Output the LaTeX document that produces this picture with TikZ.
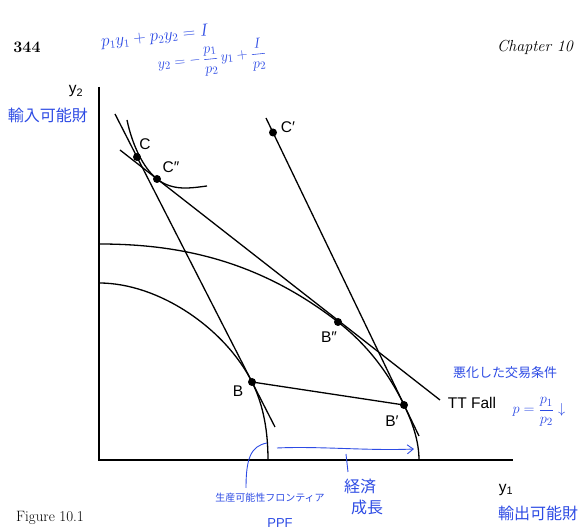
\documentclass[tikz,border=0pt]{standalone}
\usepackage{fontspec}
\usepackage{amsmath}
\usepackage{tikz}
\usetikzlibrary{arrows.meta,positioning}
\newfontfamily\labfont{Liberation Sans}
\newfontfamily\jpfont{Noto Sans CJK JP}
\definecolor{handblue}{RGB}{45,75,228}

\begin{document}
\begin{tikzpicture}[
  x=1pt, y=1pt,
  line/.style={line width=1.3pt},
  dot/.style={circle, fill, inner sep=0pt, minimum size=8pt},
  lab/.style={font=\labfont\fontsize{15.5}{18}\selectfont, inner sep=0pt},
  ink/.style={text=handblue, inner sep=0pt},
  jp/.style={ink, font=\jpfont\fontsize{#1}{#1}\selectfont},
  pen/.style={draw=handblue, line width=0.9pt}
]
  \useasboundingbox (-99,-72) rectangle (485,460);

  % axes
  \coordinate (ytop) at (0,373);
  \coordinate (O) at (0,0);
  \coordinate (xend) at (414,0);
  \draw[line] (ytop) -- (O) -- (xend);

  % production possibility frontiers
  \draw[line] (0,177) .. controls (60,177) and (126,131.5) .. (153,78)
              .. controls (165,54) and (169,27) .. (169,0);
  \draw[line] (0,216) .. controls (80,216) and (159,200) .. (239,138)
              .. controls (267,116.3) and (289,88.3) .. (305,55)
              .. controls (313.5,37.3) and (320,19) .. (320,0);

  % indifference curve
  \draw[line] (28,340) .. controls (33,316) and (44,292) .. (58,281)
              .. controls (74,268.5) and (92,272) .. (108,274);

  % price lines
  \coordinate (cb0) at (16,346);
  \coordinate (cb1) at (176,33);
  \coordinate (cp0) at (167,342);
  \coordinate (cp1) at (320,24);
  \coordinate (tt0) at (21,310);
  \coordinate (tt1) at (341,60);
  \draw[line] (cb0) -- (cb1);
  \draw[line] (cp0) -- (cp1);
  \draw[line] (tt0) -- (tt1);

  \node[dot] (C)   at (38,303) {};
  \node[dot] (Cpp) at (58,281) {};
  \node[dot] (Cp)  at (174,327.5) {};
  \node[dot] (B)   at (153,78) {};
  \node[dot] (Bpp) at (239,138) {};
  \node[dot] (Bp)  at (305,55) {};
  \draw[line] (B.center) -- (Bp.center);

  \node[lab] (Clab)   at (46,316) {C};
  \node[lab] (Cpplab) at (72,293) {C\char"2033};
  \node[lab] (Cplab)  at (189,333) {C\char"2032};
  \node[lab] (Blab)   at (139,69) {B};
  \node[lab] (Bplab)  at (293,39) {B\char"2032};
  \node[lab] (Bpplab) at (230,123) {B\char"2033};
  \node[lab] (ttlab)  at (373,57) {TT Fall};
  \node[lab] (y2lab)  at (-23,369) {y\textsubscript{2}};
  \node[lab] (y1lab)  at (407,-30) {y\textsubscript{1}};

  % page text
  \node[font=\bfseries\fontsize{16}{18}\selectfont, inner sep=0pt] (page) at (-72,413) {344};
  \node[font=\itshape\fontsize{16}{18}\selectfont, inner sep=0pt] (chap) at (436,413) {Chapter 10};
  \node[font=\fontsize{15}{18}\selectfont, inner sep=0pt] (fig) at (-49,-58) {Figure 10.1};

  % handwritten notes
  \node[ink, rotate=6, font=\fontsize{16}{18}\selectfont] (budget) at (56,423) {$p_1y_1+p_2y_2=I$};
  \node[ink, rotate=6, font=\fontsize{15}{18}\selectfont] (slope) at (113,401) {$y_2=-\,\dfrac{p_1}{p_2}\,y_1+\dfrac{I}{p_2}$};
  \node[jp=16] (imp) at (-51,345) {輸入可能財};
  \node[jp=16] (exp) at (439,-53) {輸出可能財};
  \node[jp=13] (tot) at (406,87) {悪化した交易条件};
  \node[ink, font=\fontsize{15}{18}\selectfont] (price) at (440,48) {$p=\dfrac{p_1}{p_2}\downarrow$};
  \node[jp=10] (ppf) at (171,-38) {生産可能性フロンティア};
  \node[ink, font=\labfont\fontsize{13}{15}\selectfont] (ppfabbr) at (181,-63) {PPF};
  \node[jp=16] (econ) at (261,-27) {経済};
  \node[jp=16, below=5pt of econ.south, xshift=7pt] (growth) {成長};

  \coordinate (g0) at (178,12);
  \coordinate (g1) at (315,11);
  \coordinate (tk0) at (247,6);
  \coordinate (tk1) at (249,-12);
  \coordinate (hk0) at (168,17);
  \coordinate (hk1) at (147,-28);
  \draw[pen, -{Straight Barb[length=6pt,width=9pt]}] (g0) .. controls (220,14) and (270,9) .. (g1);
  \draw[pen] (tk0) -- (tk1);
  \draw[pen] (hk0) .. controls (152,14) and (147,2) .. (hk1);
\end{tikzpicture}
\end{document}
